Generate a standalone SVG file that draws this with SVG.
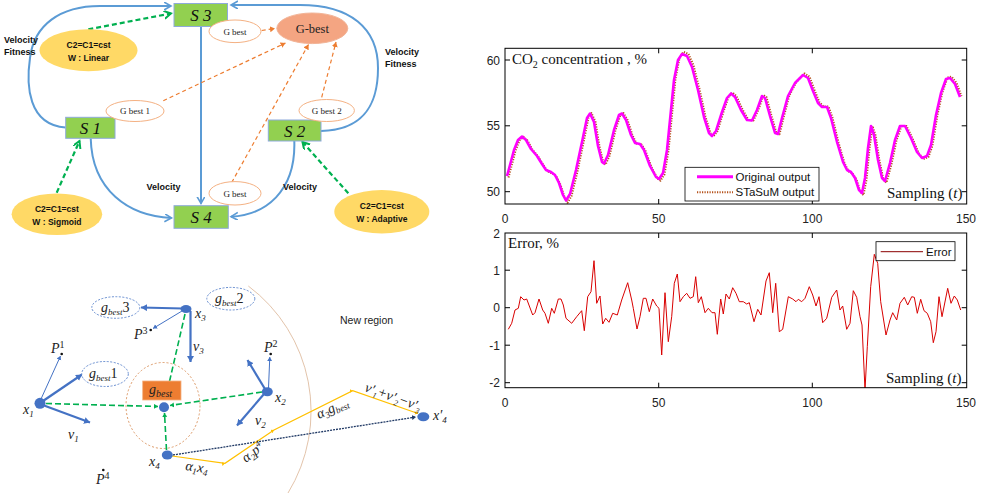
<svg xmlns="http://www.w3.org/2000/svg" width="999" height="493" viewBox="0 0 999 493">
<style>
.sbox{fill:#92d050;stroke:#8eaadb;stroke-width:1}
.slab{font-family:"Liberation Serif",serif;font-style:italic;font-size:17px;text-anchor:middle;fill:#111}
.ybl{fill:#ffd966}
.ytx{font-family:"Liberation Sans",sans-serif;font-weight:bold;font-size:8.5px;text-anchor:middle;fill:#111}
.lab{font-family:"Liberation Sans",sans-serif;font-weight:bold;font-size:9px;fill:#111}
.gb{fill:#fff;stroke:#f4b183;stroke-width:1}
.gbt{font-family:"Liberation Serif",serif;font-size:9px;text-anchor:middle;fill:#222}
.blu{fill:none;stroke:#5b9bd5;stroke-width:2;marker-end:url(#mBlue)}
.grn{fill:none;stroke:#00b050;stroke-width:2.2;stroke-dasharray:5 3;marker-end:url(#mGreen)}
.org{fill:none;stroke:#ed7d31;stroke-width:1.2;stroke-dasharray:4 3;marker-end:url(#mOrange)}
.thk{fill:none;stroke:#4472c4;stroke-width:2.2;marker-end:url(#mDB)}
.thn{fill:none;stroke:#4472c4;stroke-width:1;marker-end:url(#mDBs)}
.gd{fill:none;stroke:#00b050;stroke-width:1.6;stroke-dasharray:6 3}
.node{fill:#4472c4}
.dotel{fill:#fff;stroke:#4472c4;stroke-width:0.8;stroke-dasharray:2 1.5}
.mt{font-family:"Liberation Serif",serif;font-style:italic;font-size:14px;fill:#222}
.ax{font-family:"Liberation Sans",sans-serif;font-size:12px;fill:#222}
.axm{font-family:"Liberation Sans",sans-serif;font-size:12px;fill:#222;text-anchor:middle}
.ser{font-family:"Liberation Serif",serif;font-size:15px;fill:#111}
.lg{font-family:"Liberation Sans",sans-serif;font-size:11.5px;fill:#111}
.tick{stroke:#000;stroke-width:1}
</style>
<defs>
<marker id="mBlue" markerUnits="userSpaceOnUse" markerWidth="10" markerHeight="10" refX="7" refY="4" orient="auto"><path d="M0,0 L7,4 L0,8" fill="none" stroke="#5b9bd5" stroke-width="1.6"/></marker>
<marker id="mGreen" markerUnits="userSpaceOnUse" markerWidth="10" markerHeight="10" refX="7" refY="4" orient="auto"><path d="M0,0 L7,4 L0,8" fill="none" stroke="#00b050" stroke-width="2"/></marker>
<marker id="mOrange" markerUnits="userSpaceOnUse" markerWidth="8" markerHeight="8" refX="5" refY="3" orient="auto"><path d="M0,0 L5,3 L0,6 Z" fill="#ed7d31"/></marker>
<marker id="mDB" markerUnits="userSpaceOnUse" markerWidth="9" markerHeight="9" refX="6" refY="3.5" orient="auto"><path d="M0,0 L6,3.5 L0,7 Z" fill="#4472c4"/></marker>
<marker id="mDBs" markerUnits="userSpaceOnUse" markerWidth="7" markerHeight="7" refX="4" refY="2.5" orient="auto"><path d="M0,0 L4,2.5 L0,5 Z" fill="#4472c4"/></marker>
<marker id="mGs" markerUnits="userSpaceOnUse" markerWidth="7" markerHeight="7" refX="4" refY="2.5" orient="auto"><path d="M0,0 L4,2.5 L0,5 Z" fill="#00b050"/></marker>
<marker id="mNv" markerUnits="userSpaceOnUse" markerWidth="7" markerHeight="7" refX="4" refY="2.5" orient="auto"><path d="M0,0 L4,2.5 L0,5 Z" fill="#1f3864"/></marker>
<marker id="mY" markerUnits="userSpaceOnUse" markerWidth="6" markerHeight="6" refX="3" refY="2" orient="auto"><path d="M0,0 L3,2 L0,4 Z" fill="#ffc000"/></marker>
<clipPath id="c1"><rect x="505" y="48.3" width="461.7" height="155.7"/></clipPath>
<clipPath id="c2"><rect x="505" y="233" width="461.7" height="154.7"/></clipPath>
</defs>
<rect width="999" height="493" fill="#fff"/>

<!-- ===== Top-left diagram ===== -->
<g id="connectors-top">
<path class="blu" d="M65.5,127.5 C28,125 26,85 30,58 C34,25 60,6 100,6 L171,6"/>
<path class="blu" d="M321,131 C366,130 378,102 378,68 C378,28 350,5 300,5 L231,5"/>
<path class="blu" d="M201,26.7 L201,203.5"/>
<path class="blu" d="M90.7,138.3 C92,190 128,216 171.5,218"/>
<path class="blu" d="M294.3,141 C296,192 265,215 231,216.7"/>
<path class="grn" d="M88.3,29.3 L171,13.5"/>
<path class="grn" d="M56.7,192.7 L79.5,141"/>
<path class="grn" d="M348.3,193.3 L302.5,142"/>
<path class="org" d="M261.7,30.5 L275,28.5"/>
<path class="org" d="M163.3,100.7 L285.5,43"/>
<path class="org" d="M231.7,182.5 L308.5,44.5"/>
<path class="org" d="M321.7,97.3 L336,42"/>
<text class="lab" x="4" y="43">Velocity</text>
<text class="lab" x="4" y="55">Fitness</text>
<text class="lab" x="385" y="55">Velocity</text>
<text class="lab" x="385" y="67">Fitness</text>
<text class="lab" x="146.5" y="190">Velocity</text>
<text class="lab" x="283" y="189.5">Velocity</text>
</g>
<g id="S3"><rect class="sbox" x="174" y="3.5" width="53.5" height="23"/><text class="slab" x="200.8" y="21">S 3</text></g>
<g id="S1"><rect class="sbox" x="65.7" y="117.3" width="49.3" height="21"/><text class="slab" x="90.3" y="134">S 1</text></g>
<g id="S2"><rect class="sbox" x="268.3" y="120" width="52.7" height="21"/><text class="slab" x="294.7" y="136.5">S 2</text></g>
<g id="S4"><rect class="sbox" x="174" y="205.7" width="54.3" height="22.6"/><text class="slab" x="201" y="223">S 4</text></g>
<g id="Gbest-main"><ellipse cx="312.3" cy="28.3" rx="35.5" ry="15.3" fill="#f4a582" stroke="#f2b497"/><text x="312.3" y="32.5" font-family="Liberation Serif,serif" font-size="12.5" text-anchor="middle" fill="#222">G-best</text></g>
<g id="gbest-s3"><ellipse class="gb" cx="235" cy="31.3" rx="26" ry="11.3"/><text class="gbt" x="235" y="34.5">G best</text></g>
<g id="gbest1"><ellipse class="gb" cx="135" cy="111" rx="29" ry="10.5"/><text class="gbt" x="135" y="114">G best 1</text></g>
<g id="gbest2"><ellipse class="gb" cx="326.7" cy="110.5" rx="27.7" ry="11"/><text class="gbt" x="326.7" y="113.5">G best 2</text></g>
<g id="gbest-s4"><ellipse class="gb" cx="235" cy="193.3" rx="26" ry="11.7"/><text class="gbt" x="235" y="196.5">G best</text></g>
<g id="linear"><ellipse class="ybl" cx="88.5" cy="50.2" rx="49" ry="21"/><text class="ytx" x="88.5" y="47.5">C2=C1=cst</text><text class="ytx" x="88.5" y="60.5">W : Linear</text></g>
<g id="sigmoid"><ellipse class="ybl" cx="56.9" cy="214.2" rx="45.3" ry="20.8"/><text class="ytx" x="56.9" y="212">C2=C1=cst</text><text class="ytx" x="56.9" y="225">W : Sigmoid</text></g>
<g id="adaptive"><ellipse class="ybl" cx="381.8" cy="211.7" rx="47.5" ry="21.7"/><text class="ytx" x="381.8" y="208.5">C2=C1=cst</text><text class="ytx" x="381.8" y="221.5">W : Adaptive</text></g>

<!-- ===== Bottom-left diagram ===== -->
<path d="M248.3,286 A156.4,156.4 0 0 1 288,493" fill="none" stroke="#e3c4ab" stroke-width="1"/>
<text x="340" y="323.5" font-family="Liberation Sans,sans-serif" font-size="10.5" fill="#222">New region</text>
<g id="connectors-bottom">
<ellipse cx="163" cy="405.5" rx="37" ry="43" fill="none" stroke="#dd9a68" stroke-width="1" stroke-dasharray="2 2"/>
<path class="thk" d="M183,308.5 L141,307.5"/>
<path class="thk" d="M190.5,311 L190.5,362"/>
<path class="thk" d="M43,401 L82,374.5"/>
<path class="thk" d="M44,405.5 L90,422.5"/>
<path class="thk" d="M265,389 L247.5,360"/>
<path class="thk" d="M264,394 L237,425.5"/>
<path class="thn" d="M182,311 L153,328.5"/>
<path class="thn" d="M41,399 L60.5,356"/>
<path class="thn" d="M268.5,388 L269.8,357"/>
<path class="gd" d="M185,314 L165,401"/>
<path class="gd" d="M46,403.5 L158,406.5" marker-end="url(#mGs)"/>
<path class="gd" d="M262,392 L170,405.5" marker-end="url(#mGs)"/>
<path class="gd" d="M166.5,450 L164.5,413" marker-end="url(#mGs)"/>
<path d="M173,455 L416,417" fill="none" stroke="#1f3864" stroke-width="1.3" stroke-dasharray="2 1" marker-end="url(#mNv)"/>
<path d="M172,456 L225,463.3 L274,430 L352.7,390.7 L418,413.5" fill="none" stroke="#ffc000" stroke-width="1.2" marker-mid="url(#mY)" marker-end="url(#mY)"/>
</g>
<g id="gbest3"><ellipse class="dotel" cx="115.8" cy="307.5" rx="24" ry="10.8"/><text class="mt" x="101" y="311.5">g<tspan dy="3" font-size="9">best</tspan><tspan dy="-3" font-style="normal">3</tspan></text></g>
<g id="gbest1b"><ellipse class="dotel" cx="105" cy="374" rx="23.3" ry="12.5"/><text class="mt" x="89" y="378">g<tspan dy="3" font-size="9">best</tspan><tspan dy="-3" font-style="normal">1</tspan></text></g>
<g id="gbest2b"><ellipse class="dotel" cx="230.8" cy="298.7" rx="24" ry="11.3"/><text class="mt" x="215" y="302.5">g<tspan dy="3" font-size="9">best</tspan><tspan dy="-3" font-style="normal">2</tspan></text></g>
<g id="gbest-box"><rect x="142.7" y="381" width="38.3" height="19" fill="#ed7d31" stroke="#f4b183" stroke-width="0.8"/><text class="mt" x="149" y="393.5" font-size="15">g<tspan dy="3" font-size="10">best</tspan></text></g>
<g id="gbest-dot"><ellipse class="node" cx="164" cy="407.3" rx="5" ry="5"/></g>
<g id="x1"><ellipse class="node" cx="40" cy="403.3" rx="5.5" ry="5.5"/><text class="mt" x="23" y="414">x<tspan dy="3" font-size="9">1</tspan></text></g>
<g id="x2"><ellipse class="node" cx="267.3" cy="391.7" rx="5.5" ry="4.5"/><text class="mt" x="275" y="402">x<tspan dy="3" font-size="9">2</tspan></text></g>
<g id="x3"><ellipse class="node" cx="186" cy="309" rx="5.5" ry="4"/><text class="mt" x="195" y="318">x<tspan dy="3" font-size="9">3</tspan></text></g>
<g id="x4"><ellipse class="node" cx="167.3" cy="455" rx="5.5" ry="4.5"/><text class="mt" x="149" y="466">x<tspan dy="3" font-size="9">4</tspan></text></g>
<g id="x4p"><ellipse class="node" cx="423.3" cy="416.7" rx="6" ry="4.5"/><text class="mt" x="433" y="420">x′<tspan dy="3" font-size="9">4</tspan></text></g>
<g id="p1"><circle cx="61.7" cy="354" r="1.3" fill="#111"/><text class="mt" x="51" y="353">P<tspan dy="-5" font-size="10" font-style="normal">1</tspan></text></g>
<g id="p2"><circle cx="270.7" cy="354" r="1.3" fill="#111"/><text class="mt" x="264" y="352">P<tspan dy="-5" font-size="10" font-style="normal">2</tspan></text></g>
<g id="p3"><circle cx="150.7" cy="330" r="1.3" fill="#111"/><text class="mt" x="134" y="339">P<tspan dy="-5" font-size="10" font-style="normal">3</tspan></text></g>
<g id="p4"><circle cx="103.3" cy="470" r="1.3" fill="#111"/><text class="mt" x="96" y="484">P<tspan dy="-5" font-size="10" font-style="normal">4</tspan></text></g>
<text class="mt" x="193" y="351">v<tspan dy="3" font-size="9">3</tspan></text>
<text class="mt" x="68" y="439">v<tspan dy="3" font-size="9">1</tspan></text>
<text class="mt" x="255" y="425">v<tspan dy="3" font-size="9">2</tspan></text>
<text class="mt" transform="translate(185,470) rotate(8)">α<tspan dy="3" font-size="9">1</tspan><tspan dy="-3">x</tspan><tspan dy="3" font-size="9">4</tspan></text>
<text class="mt" transform="translate(246,463) rotate(-38)">α<tspan dy="3" font-size="9">2</tspan><tspan dy="-3">p</tspan><tspan dy="-5" font-size="9">4</tspan></text>
<text class="mt" transform="translate(319,419) rotate(-25)">α<tspan dy="3" font-size="9">3</tspan><tspan dy="-3">g</tspan><tspan dy="3" font-size="9">best</tspan></text>
<text class="mt" font-size="12" transform="translate(364,391) rotate(20)">v′<tspan dy="3" font-size="8">1</tspan><tspan dy="-3">+v′</tspan><tspan dy="3" font-size="8">2</tspan><tspan dy="-3">−v′</tspan><tspan dy="3" font-size="8">3</tspan></text>

<!-- ===== Top chart ===== -->
<g id="chart-top">
<g clip-path="url(#c1)">
<polyline transform="translate(1.5 -3.75) scale(1 1.03)" fill="none" stroke="#b5521b" stroke-width="2" stroke-dasharray="1.2 1.3" stroke-linejoin="round" points="507,176 510,165 514,150 518,140 522,136.5 526,140 531,149 537,156 542,164 546,170 551,172 555,175 559,183 563,195 566,200.5 570,194 576,170 582,142 587,118 590,113.5 594,122 598,146 602,162 604,163.5 608,155 614,130 619,115 622,113.5 626,120 631,135 635,143 640,144 644,150 650,166 656,177 659,179 663,173 667,150 671,110 674,80 678,60 682,54 687,56 692,67 698,90 704,117 709,133 712,136 716,131 722,112 727,98 731,93.5 735,97 741,110 747,120 752,120.5 757,110 762,96 765,98 770,116 775,133 778,134 782,118 788,96 795,83 803,75 808,78 813,91 818,103 822,107 827,107 831,118 837,142 843,162 847,170 851,172 855,178 859,190 862,193 865,178 868,148 871,126 874,135 878,160 882,178 885,181 890,163 895,140 900,126 905,126 911,138 917,152 922,158 927,156 931,145 936,115 941,93 946,79 950,78 955,84 960,97"/>
<polyline fill="none" stroke="#ff00ff" stroke-width="2.6" stroke-linejoin="round" points="507,176 510,165 514,150 518,140 522,136.5 526,140 531,149 537,156 542,164 546,170 551,172 555,175 559,183 563,195 566,200.5 570,194 576,170 582,142 587,118 590,113.5 594,122 598,146 602,162 604,163.5 608,155 614,130 619,115 622,113.5 626,120 631,135 635,143 640,144 644,150 650,166 656,177 659,179 663,173 667,150 671,110 674,80 678,60 682,54 687,56 692,67 698,90 704,117 709,133 712,136 716,131 722,112 727,98 731,93.5 735,97 741,110 747,120 752,120.5 757,110 762,96 765,98 770,116 775,133 778,134 782,118 788,96 795,83 803,75 808,78 813,91 818,103 822,107 827,107 831,118 837,142 843,162 847,170 851,172 855,178 859,190 862,193 865,178 868,148 871,126 874,135 878,160 882,178 885,181 890,163 895,140 900,126 905,126 911,138 917,152 922,158 927,156 931,145 936,115 941,93 946,79 950,78 955,84 960,97"/>
</g>
<rect x="505" y="48.3" width="461.7" height="155.7" fill="none" stroke="#000" stroke-width="1"/>
<path class="tick" d="M505,60 h5 M505,125.8 h5 M505,191.7 h5 M966.7,60 h-5 M966.7,125.8 h-5 M966.7,191.7 h-5 M658.7,204 v-5 M812.3,204 v-5 M658.7,48.3 v5 M812.3,48.3 v5"/>
<text class="ax" x="500" y="64.5" text-anchor="end">60</text>
<text class="ax" x="500" y="130.3" text-anchor="end">55</text>
<text class="ax" x="500" y="196.2" text-anchor="end">50</text>
<text class="axm" x="505" y="223">0</text>
<text class="axm" x="658.7" y="223">50</text>
<text class="axm" x="812.3" y="223">100</text>
<text class="axm" x="966" y="223">150</text>
<text class="ser" x="512" y="64">CO<tspan dy="4" font-size="10">2</tspan><tspan dy="-4"> concentration , %</tspan></text>
<text class="ser" x="887" y="198">Sampling (<tspan font-style="italic">t</tspan>)</text>
<rect x="685" y="167.3" width="134" height="33.7" fill="#fff" stroke="#000" stroke-width="0.8"/>
<line x1="697" y1="176.7" x2="733" y2="176.7" stroke="#ff00ff" stroke-width="3"/>
<line x1="697" y1="192.3" x2="733" y2="192.3" stroke="#b5521b" stroke-width="2" stroke-dasharray="1.2 1.3"/>
<text class="lg" x="735.5" y="180.8">Original output</text>
<text class="lg" x="735.5" y="196.3">STaSuM output</text>
</g>

<!-- ===== Bottom chart ===== -->
<g id="chart-bottom">
<g clip-path="url(#c2)">
<polyline fill="none" stroke="#d80000" stroke-width="1" stroke-linejoin="round" points="508.3,329.3 511.7,323.3 515,310 518.3,308.3 520.7,296.7 524,300 526.7,299 532.7,315 535,312.7 539,299 542.7,310 545,313.3 548.3,323.3 551.7,308.3 554.3,313.3 558.3,299 561,299 563.3,305 566,318.3 571.7,323.3 576.7,316.7 581.7,310.7 584.3,330.7 587.7,296.7 591,291.7 594,260.7 596.7,303.3 600,296 602.7,324 605.7,318.3 609,322.3 612.7,313.3 617.3,315 621.7,300 627.7,282.7 631.7,300 633.3,308.3 637,329 640,316.7 643.3,298.3 646,298.3 649.3,311.7 652.7,299 656.7,306 659,308.3 661.7,355 665,292.7 668.3,341.7 671.7,316.7 674.3,283.3 677.3,274 680,301.7 683.3,296.7 686.7,293.3 690,298.3 693.3,296.7 695.7,276.7 698.3,302.7 701.3,296.7 705,312.7 708.3,308.3 712,312.7 715,312.7 717.3,334.3 720.7,299 723.3,314 726,294 729.3,299 732.7,287.7 736,293.3 739.3,301.7 743.3,301.7 746.7,304 749.3,302.7 754,321.7 757.7,309.3 761,315 766,281 769.3,272.7 772.7,312.7 775.7,283.3 779.3,331.7 782.7,329.3 788.3,296.7 792.7,299 796,301.7 798.3,299.3 801.7,301.7 805,298.3 809.3,286.7 812.7,295 816,306 819,296.7 822.7,322.7 826.7,318.3 831.7,297.3 836.7,290 840,310 842.7,306 846.7,329.3 850,323.3 853.3,290.7 856.7,297.3 860,316.7 862,325 865,390 867.3,346.7 870.7,286.7 874.3,254.3 877.7,263.3 880.7,301.7 886,335 890,320 892.7,312.7 896.7,320 900,303.3 904.3,297.3 907.7,305 911.7,296.7 914.3,297.3 917.3,313.3 920.7,299.3 924,310.7 927.3,313.3 930.7,321.7 933.3,342.7 936,331.7 939,296.7 942,316.7 947.7,288.3 951,303.3 954.3,296 957.3,300 960.7,310"/>
</g>
<rect x="505" y="233" width="461.7" height="154.7" fill="none" stroke="#000" stroke-width="1"/>
<path class="tick" d="M505,270.2 h5 M505,307.7 h5 M505,345.2 h5 M505,382.7 h5 M966.7,270.2 h-5 M966.7,307.7 h-5 M966.7,345.2 h-5 M966.7,382.7 h-5 M658.7,387.7 v-5 M812.3,387.7 v-5 M658.7,233 v5 M812.3,233 v5"/>
<text class="ax" x="500" y="237.5" text-anchor="end">2</text>
<text class="ax" x="500" y="274.5" text-anchor="end">1</text>
<text class="ax" x="500" y="312" text-anchor="end">0</text>
<text class="ax" x="500" y="349.5" text-anchor="end">-1</text>
<text class="ax" x="500" y="387" text-anchor="end">-2</text>
<text class="axm" x="505" y="407">0</text>
<text class="axm" x="658.7" y="407">50</text>
<text class="axm" x="812.3" y="407">100</text>
<text class="axm" x="966" y="407">150</text>
<text class="ser" x="508" y="248">Error, %</text>
<text class="ser" x="886" y="383">Sampling (<tspan font-style="italic">t</tspan>)</text>
<rect x="876" y="241.7" width="79" height="19" fill="#fff" stroke="#000" stroke-width="0.8"/>
<line x1="880.7" y1="251.7" x2="923" y2="251.7" stroke="#8b0000" stroke-width="1"/>
<text class="lg" x="926" y="256" font-size="12">Error</text>
</g>
</svg>
